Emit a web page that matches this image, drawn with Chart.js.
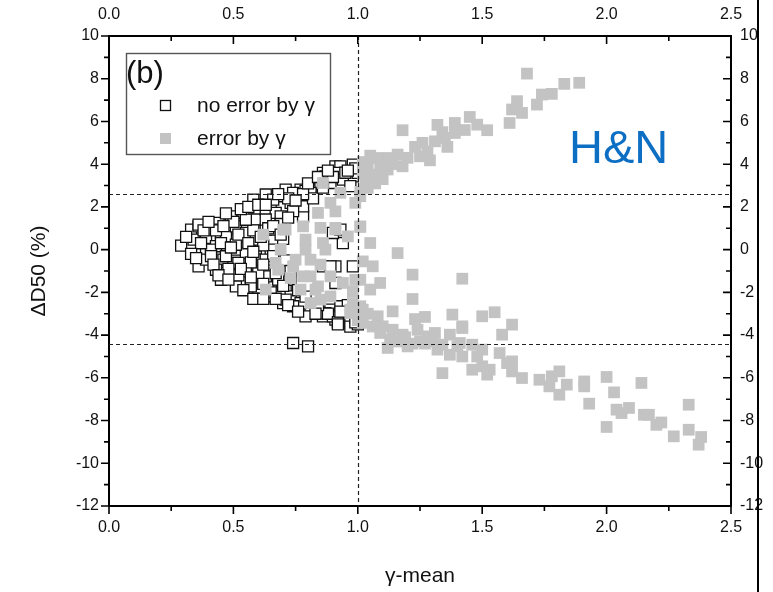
<!DOCTYPE html>
<html>
<head>
<meta charset="utf-8">
<script src="https://cdn.jsdelivr.net/npm/chart.js@4.4.0/dist/chart.umd.min.js"></script>
<style>
  html, body { margin: 0; padding: 0; background: #fff; }
</style>
</head>
<body>
<canvas id="chart" width="773" height="592"></canvas>
<script>
// points, [gamma-mean, dD50 %]
const noErrorPoints = [
  [0.29,0.19],[0.33,0.94],[0.36,1.09],[0.34,0.47],[0.36,-0.78],[0.39,0.55],[0.39,-0.16],[0.44,1.25],
  [0.45,0.78],[0.43,0.16],[0.46,-0.47],[0.45,-1.09],[0.49,1.56],[0.50,0.94],[0.49,0.47],[0.51,0.00],
  [0.50,-0.62],[0.51,-1.25],[0.52,-1.64],[0.54,1.72],[0.55,1.25],[0.55,0.62],[0.55,-0.16],[0.57,-0.78],
  [0.55,-1.41],[0.57,-1.87],[0.58,2.34],[0.60,1.87],[0.59,1.09],[0.61,0.31],[0.59,-0.31],[0.61,-0.94],
  [0.61,-1.56],[0.60,-2.03],[0.65,2.34],[0.65,1.87],[0.66,-2.19],[0.65,-1.56],[0.65,-0.78],[0.65,1.41],
  [0.70,2.50],[0.71,2.81],[0.70,-2.50],[0.71,-1.87],[0.73,-1.41],[0.74,2.19],[0.77,2.81],[0.77,-2.65],
  [0.81,2.97],[0.81,-2.81],[0.78,1.56],[0.85,3.28],[0.86,3.59],[0.86,-3.12],[0.89,-2.81],[0.91,3.90],
  [0.94,3.59],[0.91,-3.28],[0.95,-3.43],[0.98,3.43],[0.94,0.31],[0.90,0.78],[0.91,-0.78],[0.86,-0.78],
  [0.74,-4.37],[0.80,-4.53],
  [0.36,1.17],[0.39,-0.47],[0.42,0.94],[0.41,0.00],[0.43,-0.94],[0.45,-1.41],[0.47,0.62],[0.47,-0.31],
  [0.51,1.09],[0.51,0.23],[0.52,-0.62],[0.51,-1.72],[0.55,0.78],[0.55,-1.02],[0.57,-1.72],[0.59,1.41],
  [0.59,0.47],[0.59,-0.47],[0.60,-1.25],[0.63,1.87],[0.63,0.94],[0.65,0.00],[0.64,-0.94],[0.64,-1.72],
  [0.63,2.58],[0.66,2.34],[0.67,1.72],
  [0.93,3.90],[0.98,3.98],[1.00,3.59],[0.91,3.59],[0.87,3.43],[0.85,3.12],[0.89,3.12],[0.94,3.28],
  [0.97,2.97],[0.79,2.75],[0.74,2.66],[0.81,2.66],[0.73,2.19],[0.78,2.03],[0.69,1.56],[0.63,1.41],
  [0.65,0.94],[0.93,0.94],[0.89,-0.78],[0.98,-0.78],[0.91,-1.56],[0.63,-0.47],[0.63,-1.25],[0.69,-2.03],
  [0.73,-2.19],[0.77,-2.50],[0.84,-2.65],[0.87,-2.97],[0.90,-3.12],[0.94,-3.20],[0.97,-3.43],[0.93,-2.65],
  [0.79,-3.12],[0.74,-2.65],[0.71,-2.34],
  [0.62,0.20],[0.66,-0.30],[0.58,0.90],[0.69,1.20],[0.71,-0.50],[0.55,1.40],[0.60,-1.10],[0.68,-1.40],
  [0.74,1.80],[0.76,-1.90],[0.79,-2.20],[0.82,2.40],[0.72,2.40],[0.57,-0.60],[0.64,1.00],[0.70,0.50],
  [0.73,-1.00],[0.65,-2.00],[0.52,-1.20],[0.48,-0.90],[0.45,0.30],[0.41,-0.30],[0.37,0.30],[0.43,0.90],
  [0.50,1.30],[0.54,-1.90],[0.58,-2.30],[0.62,-2.30],[0.88,-3.00],[0.92,-3.40],[0.97,-3.60],[0.99,-3.20],
  [0.95,3.60],[0.99,3.80],[0.90,3.40],[0.86,2.90],[0.78,2.60],[0.84,-2.60],[0.96,-2.60],[0.93,-2.90],
  [0.31,0.60],[0.33,-0.20],[0.35,-0.40],[0.38,0.90],[0.40,1.30],[0.42,-0.70],[0.44,-1.20],[0.46,1.10],
  [0.47,1.70],[0.48,-1.40],[0.49,0.10],[0.52,0.70],[0.53,1.90],[0.53,-0.90],[0.56,2.00],[0.56,0.30],
  [0.57,-1.30],[0.58,-0.10],[0.60,2.10],[0.61,0.60],[0.62,-0.70],[0.62,-1.60],[0.63,2.10],[0.66,1.10],
  [0.67,-1.10],[0.67,-2.30],[0.68,2.60],[0.69,0.70],[0.70,-1.70],[0.72,1.50],[0.72,-2.60],[0.75,2.30],
  [0.76,-2.90],[0.80,3.10],[0.83,-3.00],[0.84,3.40],[0.88,3.70],[0.92,-3.50],[0.96,3.70],[1.00,-3.50],
  [0.99,-3.40]
];

const errorPoints = [
  // upper branch
  [1.68,8.24],[1.89,7.81],[1.83,7.76],[1.78,7.29],[1.74,7.26],[1.72,6.79],[1.64,6.95],[1.62,6.56],
  [1.66,6.40],[1.61,5.93],[1.52,5.59],[1.48,5.85],[1.45,6.21],[1.39,5.93],[1.39,5.46],[1.32,5.84],
  [1.18,5.59],[1.35,5.23],[1.36,4.81],[1.31,5.07],[1.26,5.00],[1.23,4.81],[1.25,4.37],[1.29,4.18],
  [1.16,4.45],[1.18,3.90],[1.12,4.29],[1.08,4.29],[1.04,3.98],[1.06,3.51],[1.02,3.59],[1.04,2.89],
  [1.12,3.75],[0.99,2.19],[1.02,4.10],[1.05,4.40],[1.09,3.80],[1.14,4.00],[1.10,3.30],[1.03,3.20],
  [1.20,4.30],[1.28,4.60],[1.43,5.60],[1.34,5.50],[1.01,2.70],[1.07,3.10],
  // middle
  [1.01,1.06],[1.05,0.31],[1.16,-0.16],[0.96,0.62],[1.02,-0.55],[1.06,-0.78],[1.22,-1.17],[1.42,-1.36],
  [1.09,-1.56],[1.05,-1.87],[1.22,-2.31],[0.99,-1.41],[0.98,-1.95],
  // lower branch
  [1.23,-3.25],[1.27,-3.15],[1.38,-3.04],[1.50,-3.12],[1.55,-2.93],[1.62,-3.51],[1.42,-3.59],[1.58,-3.98],
  [1.02,-2.81],[1.02,-3.43],[1.08,-3.12],[1.10,-3.59],[1.14,-2.89],[1.14,-3.75],[1.12,-4.60],[1.18,-3.98],
  [1.20,-4.53],[1.24,-3.75],[1.25,-4.29],[1.28,-4.06],[1.32,-4.68],[1.34,-4.45],[1.37,-3.98],[1.37,-4.92],
  [1.40,-4.53],[1.42,-5.00],[1.46,-4.45],[1.48,-5.00],[1.46,-5.62],[1.34,-5.78],[1.50,-5.46],[1.52,-5.85],
  [1.57,-4.84],[1.60,-5.31],[1.62,-5.70],[1.66,-6.01],[1.73,-6.09],[1.78,-5.93],[1.77,-6.40],[1.42,-3.67],
  [1.41,-4.37],[1.50,-4.68],[1.53,-5.62],[1.62,-5.23],[1.84,-6.32],[1.81,-6.79],
  [1.04,-3.00],[1.06,-3.60],[1.09,-3.90],[1.13,-4.20],[1.16,-4.30],[1.19,-4.10],[1.22,-4.40],[1.27,-4.40],
  [1.30,-4.30],[1.31,-3.90],[1.00,-3.30],[0.99,-2.90],
  [1.81,-5.70],[1.91,-6.17],[1.91,-6.40],[1.93,-7.21],[2.00,-5.96],[2.03,-6.68],[2.04,-7.49],[2.09,-7.41],
  [2.06,-7.65],[2.00,-8.30],[2.14,-6.24],[2.15,-7.73],[2.17,-7.73],[2.20,-8.20],[2.22,-8.09],[2.27,-8.74],
  [2.33,-7.26],[2.33,-8.43],[2.38,-8.77],[2.37,-9.13],
  // inside the wedge
  [0.84,1.72],[0.91,1.79],[0.91,1.02],[0.93,2.66],[1.01,2.50],[1.01,1.09],[0.71,0.94],[0.78,1.09],
  [0.85,1.02],[0.79,0.47],[0.87,0.00],[0.69,0.00],[0.75,-0.47],[0.81,-0.47],[0.85,-0.70],[0.89,-1.25],
  [0.81,-1.25],[0.73,-1.33],[0.77,-1.87],[0.84,-1.72],[0.89,-2.19],[0.94,-1.56],[1.01,-1.41],[1.01,-2.65],
  [0.97,-2.81],[0.68,-0.94],[0.63,-1.87],[0.85,-2.34],[0.81,-2.50],[0.62,0.70],[0.70,0.94],[0.67,-0.62],
  [0.74,-0.78],[0.78,-1.25],[0.79,0.00],[0.86,3.12],[0.89,2.19],[0.86,0.31],[0.91,0.94],[0.83,-1.87],
  [0.98,-2.50],[0.97,-2.97]
];

const seriesLabels = ["no error by \u03b3", "error by \u03b3"];
const xRange = [0, 2.5];
const yRange = [-12, 10];
const limitLinesY = [2.6, -4.4];
const limitLineX = 1.0;

const FONT = "'Liberation Sans', Arial, sans-serif";

function toXY(list) {
  return list.map(p => ({ x: p[0], y: p[1] }));
}

// ticks, minor ticks, dashed limit lines, legend box and labels
const framePlugin = {
  id: "frame",
  afterDatasetsDraw(chart) {
    const ctx = chart.ctx;
    const area = chart.chartArea;
    const xs = chart.scales.x;
    const ys = chart.scales.y;
    ctx.save();
    ctx.strokeStyle = "#222";
    ctx.lineWidth = 1.2;
    ctx.setLineDash([4, 3]);
    ctx.beginPath();
    const vx = Math.round(xs.getPixelForValue(limitLineX)) + 0.5;
    ctx.moveTo(vx, area.top);
    ctx.lineTo(vx, area.bottom);
    limitLinesY.forEach(v => {
      const py = Math.round(ys.getPixelForValue(v)) + 0.5;
      ctx.moveTo(area.left, py);
      ctx.lineTo(area.right, py);
    });
    ctx.stroke();
    ctx.restore();
  },
  afterDraw(chart) {
    const ctx = chart.ctx;
    const area = chart.chartArea;
    ctx.save();
    ctx.strokeStyle = "#000";
    ctx.lineWidth = 1.6;
    const major = 8, minor = 5;
    ctx.beginPath();
    // x ticks (bottom outward, top inward)
    for (let i = 0; i <= 10; i++) {
      const px = chart.scales.x.getPixelForValue(xRange[0] + i * 0.25);
      const len = i % 2 === 0 ? major : minor;
      ctx.moveTo(px, area.bottom);
      ctx.lineTo(px, area.bottom + len);
      ctx.moveTo(px, area.top);
      ctx.lineTo(px, area.top + len);
    }
    // y ticks (left outward, right inward)
    for (let i = 0; i <= 22; i++) {
      const py = chart.scales.y.getPixelForValue(yRange[0] + i);
      const len = i % 2 === 0 ? major : minor;
      ctx.moveTo(area.left, py);
      ctx.lineTo(area.left - len, py);
      ctx.moveTo(area.right, py);
      ctx.lineTo(area.right - len, py);
    }
    ctx.stroke();

    // legend box
    const ds = chart.data.datasets;
    ctx.strokeStyle = "#555";
    ctx.lineWidth = 1.4;
    ctx.strokeRect(126.5, 53.5, 204, 101);
    ctx.fillStyle = "#111";
    ctx.textBaseline = "middle";
    ctx.font = "31px " + FONT;
    ctx.fillText("(b)", 126, 74);
    ctx.font = "21px " + FONT;
    const rows = [105, 138];
    rows.forEach((ry, i) => {
      const d = ds[i];
      ctx.fillStyle = d.backgroundColor;
      ctx.fillRect(160, ry - 5, 11, 11);
      if (d.borderWidth > 0) {
        ctx.strokeStyle = d.borderColor;
        ctx.lineWidth = d.borderWidth;
        ctx.strokeRect(160.5, ry - 4.5, 10, 10);
      }
      ctx.fillStyle = "#111";
      ctx.fillText(d.label, 197, ry + 1);
    });

    // panel tag
    ctx.fillStyle = "#0d6fc4";
    ctx.font = "47px " + FONT;
    ctx.fillText("H&N", 569, 150);

    // border line at the right edge of the figure
    ctx.fillStyle = "#000";
    ctx.fillRect(757, 0, 2, 592);
    ctx.restore();
  }
};

const tickFont = { family: FONT, size: 16 };
const titleFont = { family: FONT, size: 21 };
const border = { display: true, color: "#000", width: 2 };
const noGrid = { display: false, drawTicks: false };

new Chart(document.getElementById("chart"), {
  type: "scatter",
  data: {
    datasets: [
      {
        label: seriesLabels[0],
        data: toXY(noErrorPoints),
        pointStyle: "rect",
        pointRadius: 7.8,
        backgroundColor: "#ffffff",
        borderColor: "#111111",
        borderWidth: 1.3,
        order: 1
      },
      {
        label: seriesLabels[1],
        data: toXY(errorPoints),
        pointStyle: "rect",
        pointRadius: 8.3,
        backgroundColor: "#c3c3c3",
        borderColor: "#c3c3c3",
        borderWidth: 0,
        order: 0
      }
    ]
  },
  options: {
    responsive: false,
    animation: false,
    devicePixelRatio: 1,
    layout: { padding: 0 },
    plugins: { legend: { display: false }, tooltip: { enabled: false } },
    scales: {
      x: {
        type: "linear", position: "bottom", min: xRange[0], max: xRange[1],
        grid: noGrid, border: border,
        ticks: { stepSize: 0.5, padding: 12, color: "#111", font: tickFont, callback: v => v.toFixed(1) },
        title: { display: true, text: "\u03b3-mean", color: "#111", font: titleFont, padding: { top: 0, bottom: 3 } },
        afterFit: s => { s.height = 86; }
      },
      x2: {
        type: "linear", position: "top", min: xRange[0], max: xRange[1],
        grid: noGrid, border: border,
        ticks: { stepSize: 0.5, padding: 12, color: "#111", font: tickFont, callback: v => v.toFixed(1) },
        afterFit: s => { s.height = 36; }
      },
      y: {
        type: "linear", position: "left", min: yRange[0], max: yRange[1],
        grid: noGrid, border: border,
        ticks: { stepSize: 2, padding: 10, color: "#111", font: tickFont },
        title: { display: true, text: "\u0394D50 (%)", color: "#111", font: titleFont, padding: { top: 27, bottom: 0 } },
        afterFit: s => { s.width = 109; }
      },
      y2: {
        type: "linear", position: "right", min: yRange[0], max: yRange[1],
        grid: noGrid, border: border,
        ticks: { stepSize: 2, padding: 9, color: "#111", font: tickFont },
        afterFit: s => { s.width = 42; }
      }
    }
  },
  plugins: [framePlugin]
});
</script>
</body>
</html>
